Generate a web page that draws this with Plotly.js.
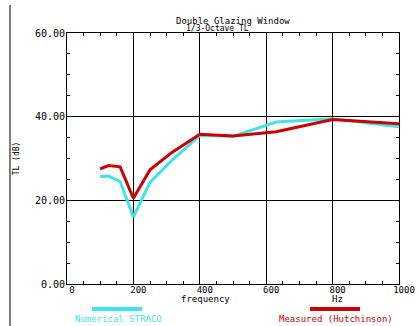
<!DOCTYPE html>
<html>
<head>
<meta charset="utf-8">
<script src="https://cdn.plot.ly/plotly-3.0.1.min.js"></script>
<style>html,body{margin:0;padding:0;background:#fff;}#chart{width:417px;height:326px;}</style>
</head>
<body>
<div id="chart"></div>
<script>
const freq = [100, 125, 160, 200, 250, 315, 400, 500, 630, 800, 1000];
const numerical = [25.7, 25.8, 24.5, 16.0, 24.3, 29.5, 35.5, 35.3, 38.7, 39.5, 37.6];
const measured = [27.5, 28.3, 28.0, 20.5, 27.3, 31.4, 35.8, 35.4, 36.4, 39.3, 38.3];
const xTickVals = [0, 200, 400, 600, 800, 1000];
const xTickText = ['0', '200', '400', '600', '800', '1000'];
const yTickVals = [0, 20, 40, 60];
const yTickText = ['0.00', '20.00', '40.00', '60.00'];

const cyan = '#3fe4ea';
const red = '#cc0000';
const mono = 'DejaVu Sans Mono, monospace';

const traces = [
  {x: freq, y: numerical, mode: 'lines', line: {color: cyan, width: 3}, name: 'Numerical STRACO', showlegend: false},
  {x: freq, y: measured, mode: 'lines', line: {color: red, width: 3}, name: 'Measured (Hutchinson)', showlegend: false}
];

const layout = {
  width: 417, height: 326,
  margin: {l: 67, r: 18, t: 33, b: 42},
  paper_bgcolor: '#fff', plot_bgcolor: '#fff',
  showlegend: false,
  xaxis: {
    range: [0, 1000], tickvals: xTickVals, ticktext: xTickText,
    showgrid: true, gridcolor: '#000', gridwidth: 1,
    zeroline: false, showline: true, linecolor: '#000', linewidth: 1, mirror: 'allticks',
    ticks: 'inside', ticklen: 4, tickcolor: '#000',
    minor: {dtick: 50, ticks: 'inside', ticklen: 3, tickcolor: '#000', showgrid: false},
    tickfont: {family: mono, size: 9, color: '#000'},
    ticklabelshift: 5, ticklabelstandoff: -3
  },
  yaxis: {
    range: [0, 60], tickvals: yTickVals, ticktext: yTickText,
    showgrid: true, gridcolor: '#000', gridwidth: 1,
    zeroline: false, showline: true, linecolor: '#000', linewidth: 1, mirror: 'allticks',
    ticks: 'inside', ticklen: 4, tickcolor: '#000',
    minor: {dtick: 5, ticks: 'inside', ticklen: 3, tickcolor: '#000', showgrid: false},
    tickfont: {family: mono, size: 10, color: '#000'},
    ticklabelstandoff: -1,
    title: {text: 'TL (dB)', font: {family: mono, size: 8, color: '#000'}, standoff: 14}
  },
  shapes: [
    {type: 'line', xref: 'paper', yref: 'paper', x0: -0.1717, x1: -0.1717, y0: 1.1116, y1: -0.17, line: {color: '#000', width: 1}},
    {type: 'line', xref: 'paper', yref: 'paper', x0: 0.0753, x1: 0.2259, y0: -0.0996, y1: -0.0996, line: {color: cyan, width: 4}},
    {type: 'line', xref: 'paper', yref: 'paper', x0: 0.7319, x1: 0.8825, y0: -0.0996, y1: -0.0996, line: {color: red, width: 4}}
  ],
  annotations: [
    {text: 'Double Glazing Window', xref: 'paper', yref: 'paper', x: 0.5, y: 1.0478, xanchor: 'center', yanchor: 'middle', showarrow: false, font: {family: mono, size: 9, color: '#000'}},
    {text: '1/3-Octave TL', xref: 'paper', yref: 'paper', x: 0.4548, y: 1.0199, xanchor: 'center', yanchor: 'middle', showarrow: false, font: {family: mono, size: 8, color: '#000'}},
    {text: 'frequency', xref: 'paper', yref: 'paper', x: 0.4157, y: -0.0578, xanchor: 'center', yanchor: 'middle', showarrow: false, font: {family: mono, size: 9, color: '#000'}},
    {text: 'Hz', xref: 'paper', yref: 'paper', x: 0.8133, y: -0.0578, xanchor: 'center', yanchor: 'middle', showarrow: false, font: {family: mono, size: 9, color: '#000'}},
    {text: 'Numerical STRACO', xref: 'paper', yref: 'paper', x: 0.1566, y: -0.1394, xanchor: 'center', yanchor: 'middle', showarrow: false, font: {family: mono, size: 9, color: cyan}},
    {text: 'Measured (Hutchinson)', xref: 'paper', yref: 'paper', x: 0.8102, y: -0.1394, xanchor: 'center', yanchor: 'middle', showarrow: false, font: {family: mono, size: 9, color: red}}
  ]
};

Plotly.newPlot('chart', traces, layout, {displayModeBar: false, staticPlot: true});
</script>
</body>
</html>
